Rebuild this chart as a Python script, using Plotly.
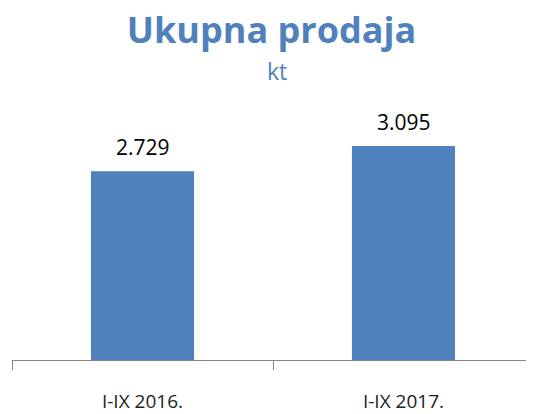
import plotly.graph_objects as go

categories = ["I-IX 2016.", "I-IX 2017."]
values = [2729, 3095]
title_text = "Ukupna prodaja"
subtitle_text = "kt"

blue = "#4F81BD"
font_family = "Open Sans, Lato, DejaVu Sans, sans-serif"

fig = go.Figure()
fig.add_trace(go.Bar(
    x=categories, y=values,
    marker=dict(color=blue, line=dict(width=0)),
    width=0.395,
    hoverinfo="skip",
))

for c, v in zip(categories, values):
    fig.add_annotation(
        x=c, y=v, xref="x", yref="y",
        text=f"{v:,}".replace(",", "."),
        showarrow=False, yanchor="bottom", yshift=8,
        font=dict(size=21, color="#000000", family=font_family),
    )

fig.add_annotation(
    x=0.508, y=1.195, xref="paper", yref="paper",
    text=subtitle_text, showarrow=False, xanchor="center", yanchor="middle",
    font=dict(size=23, color=blue, family=font_family),
)

fig.update_layout(
    width=526, height=406,
    margin=dict(l=4, r=0, t=110, b=45),
    paper_bgcolor="white", plot_bgcolor="white",
    showlegend=False,
    title=dict(
        text=f"<b>{title_text}</b>",
        font=dict(size=36, color=blue, family=font_family),
        x=0.501, xanchor="center", y=0.975, yanchor="top",
        yref="container",
    ),
    bargap=0.6,
)

fig.update_xaxes(
    showline=True, linecolor="#868686", linewidth=1,
    ticks="outside", ticklen=9, tickcolor="#868686", tickwidth=1,
    tickson="boundaries",
    tickfont=dict(size=19, color="#222222", family=font_family),
    ticklabelstandoff=24,
    showgrid=False,
    range=[-0.5, 1.5],
)
fig.update_yaxes(
    visible=False, range=[0, 3500], showgrid=False, zeroline=False,
)

fig.write_html("out.html")
